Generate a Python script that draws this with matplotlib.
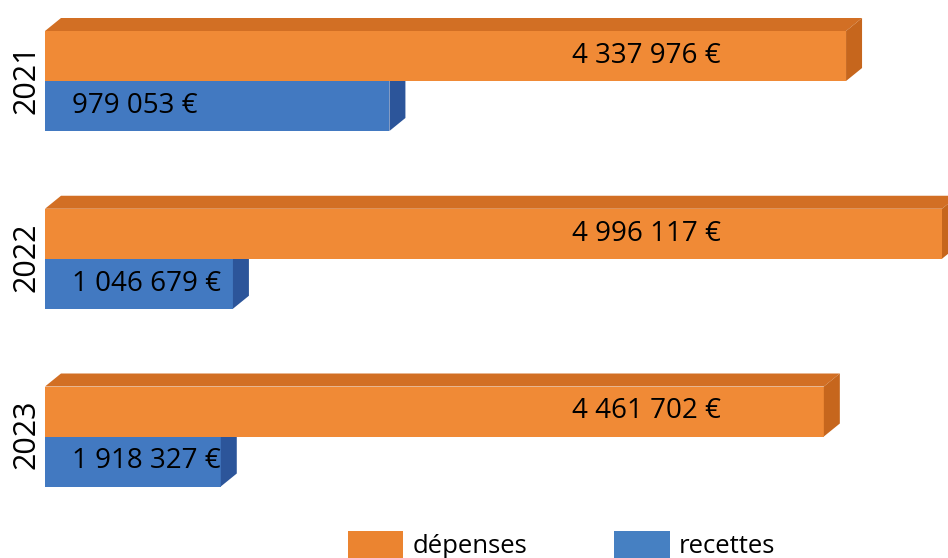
import matplotlib
matplotlib.use('Agg')
import matplotlib.pyplot as plt
from matplotlib.patches import Polygon, Patch
import matplotlib.transforms as mtransforms
import numpy as np

# ---- data ----
years = ['2021', '2022', '2023']
depenses = [4337976, 4996117, 4461702]
recettes = [979053, 1046679, 1918327]
series_labels = ['dépenses', 'recettes']

FONT = ['Open Sans', 'DejaVu Sans']
plt.rcParams['font.family'] = FONT

# colours
or_front, or_top, or_side = '#F08A36', '#D26F24', '#C6661D'
bl_front, bl_top, bl_side = '#4279C1', '#3765AC', '#2C559A'
leg_or, leg_bl = '#EB8430', '#4680C2'

W, H = 948, 558
fig = plt.figure(figsize=(W / 100, H / 100), dpi=100)
ax = fig.add_axes([45 / W, 0, 897 / W, 1])
xmax = max(depenses)
ax.set_xlim(0, xmax)
row_px = 177.75
c0 = 81
ax.set_ylim((H - c0) / row_px, -c0 / row_px)
ax.axis('off')

bh = 50 / row_px          # bar thickness in row units
dx = 16 / 897 * xmax      # 3-D depth offset (x)
dy = 13 / row_px          # 3-D depth offset (y, upward)

rows = np.arange(len(years))
# The source chart draws the bar lengths in reversed year order
# while its labels follow the year order; reproduce that as shown.
dep_len = depenses[::-1]
rec_len = recettes[::-1]


def bar3d(y_top, w, front, top, side, z):
    y_bot = y_top + bh
    ax.barh(y_top, w, height=bh, left=0, align='edge', color=front,
            zorder=z, linewidth=0)
    ax.add_patch(Polygon([(0, y_top), (w, y_top), (w + dx, y_top - dy),
                          (dx, y_top - dy)], closed=True, facecolor=top,
                         edgecolor='none', zorder=z, clip_on=False))
    ax.add_patch(Polygon([(w, y_top), (w + dx, y_top - dy),
                          (w + dx, y_bot - dy), (w, y_bot)], closed=True,
                         facecolor=side, edgecolor='none', zorder=z,
                         clip_on=False))


for i in rows:
    bar3d(i, rec_len[i], bl_front, bl_top, bl_side, 1)
    bar3d(i - bh, dep_len[i], or_front, or_top, or_side, 2)


def fmt(v):
    return f"{v:,}".replace(',', ' ') + ' €'


tr = mtransforms.blended_transform_factory(ax.transAxes, ax.transData)
for i in rows:
    ax.text((572 - 45) / 897, i - bh / 2, fmt(depenses[i]), transform=tr,
            ha='left', va='center', fontsize=20, color='black', zorder=5)
    ax.text((72 - 45) / 897, i + bh / 2, fmt(recettes[i]), transform=tr,
            ha='left', va='center', fontsize=20, color='black', zorder=5)
    ax.text((27 - 45) / 897, i - 0.01, years[i], transform=tr, rotation=90,
            ha='center', va='center', fontsize=22, color='black',
            clip_on=False)

handles = [Patch(facecolor=leg_or, edgecolor='none'),
           Patch(facecolor=leg_bl, edgecolor='none')]
fig.legend(handles, series_labels, loc='center left',
           bbox_to_anchor=(348 / W, 13 / H), ncol=2, frameon=False,
           prop={'family': FONT, 'size': 18.5}, handlelength=2.15,
           handleheight=1.25, handletextpad=0.35, columnspacing=3.4,
           borderpad=0, borderaxespad=0)

fig.savefig('out.png', dpi=100)
